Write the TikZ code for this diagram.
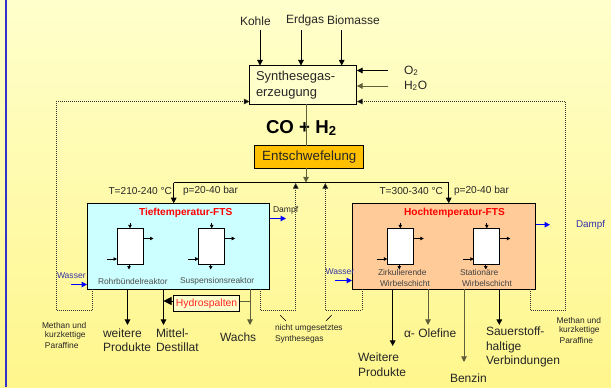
\documentclass[tikz,border=0pt]{standalone}
\usepackage{fontspec}
\setmainfont{Liberation Sans}
\usetikzlibrary{arrows.meta}
\definecolor{bgtop}{HTML}{FFFFCC}
\definecolor{bgbot}{HTML}{FFF68C}
\definecolor{stripe}{HTML}{3333CC}
\definecolor{tiefc}{HTML}{CCFFFF}
\definecolor{hochc}{HTML}{FFCC99}
\definecolor{entsc}{HTML}{FFC000}
\definecolor{olivec}{HTML}{5F5F3A}
\definecolor{bluetxt}{HTML}{3333AA}
\tikzset{
  every node/.style={inner sep=0pt, outer sep=0pt, text=black!85},
  box/.style={draw=black, line width=0.75pt},
  lab/.style={anchor=west, font=\fontsize{9}{9}\selectfont},
  tiny/.style={anchor=west, font=\fontsize{6.3}{6.3}\selectfont},
  cond/.style={anchor=west, font=\fontsize{7.6}{7.6}\selectfont},
  title/.style={anchor=west, font=\fontsize{7.6}{7.6}\selectfont\bfseries, text=red},
  arr/.style={draw=black, line width=0.7pt, -{Triangle[length=4.2pt,width=4.2pt]}},
  oarr/.style={arr, draw=olivec},
  smallarr/.style={draw=black, line width=0.6pt, -{Triangle[length=2.6pt,width=2.6pt]}},
  bluearr/.style={draw=blue, line width=0.8pt, -{Triangle[length=4pt,width=4pt]}},
  dots/.style={draw=black!80, line width=0.5pt, densely dotted},
  dotarr/.style={dots, -{Triangle[length=4.2pt,width=4.2pt,fill=black]}},
}
\begin{document}
\begin{tikzpicture}[x=0.75pt,y=-0.75pt]
  \useasboundingbox (0,0) rectangle (611,387);
  \shade[top color=bgtop,bottom color=bgbot] (0,0) rectangle (611,387);
  \fill[stripe] (5,0) rectangle (7,387);

  % main boxes
  \node[box,fill=bgtop,minimum width=80.6pt,minimum height=29.2pt,inner xsep=4.9pt,text width=70.8pt,align=left,font=\fontsize{9.7}{12}\selectfont] (syn) at (303.2,85) {Synthesegas-\\erzeugung};
  \node[box,fill=entsc,minimum width=81.5pt,minimum height=17.2pt,font=\fontsize{10}{10}\selectfont] (ents) at (309.3,157) {Entschwefelung};
  \node[box,fill=tiefc,minimum width=137.2pt,minimum height=64.5pt] (tief) at (178.5,246.3) {};
  \node[box,fill=hochc,minimum width=137.7pt,minimum height=64.5pt] (hoch) at (443.8,246.3) {};
  \node[box,fill=bgtop,minimum width=50pt,minimum height=11.5pt,text=red!85!white,font=\fontsize{7.8}{7.8}\selectfont] (hydro) at (206.6,303.6) {Hydrospalten};

  % feeds
  \node[lab] (kohle) at (240,21) {Kohle};
  \node[lab] (erdgas) at (286,20) {Erdgas};
  \node[lab] (bio) at (327,20) {Biomasse};
  \coordinate (kohlea) at (260,30);
  \coordinate (erdgasa) at (301,30);
  \coordinate (bioa) at (341.7,30);
  \foreach \n in {kohlea,erdgasa,bioa} {
    \draw[arr] (\n) -- (\n |- syn.north);
  }
  \node[lab] (oxy) at (404,71) {O\textsubscript{2}};
  \node[lab] (wat) at (404,86) {H\textsubscript{2}O};
  \coordinate (oxya) at (388,70.5);
  \coordinate (wata) at (388,86);
  \draw[arr] (oxya) -- (oxya -| syn.east);
  \draw[oarr] (wata) -- (wata -| syn.east);

  \node[anchor=west,font=\fontsize{14}{14}\selectfont\bfseries,text=black] (coh) at (266,128) {CO + H\textsubscript{2}};
  \coordinate (mid) at (306,182.5);
  \coordinate (tiefin) at (173.7,182.5);
  \coordinate (hochin) at (448.7,182.5);
  \draw[draw=olivec,line width=0.7pt] (mid |- syn.south) -- (mid |- ents.north);
  \draw[oarr] (mid |- ents.south) -- (mid);
  \draw[line width=0.7pt] (tiefin) -- (hochin);
  \draw[arr] (tiefin) -- (tiefin |- tief.north);
  \draw[arr] (hochin) -- (hochin |- hoch.north);
  \node[cond,anchor=east] (tt) at (172,191) {T=210-240 °C};
  \node[cond] (tp) at (183,191) {p=20-40 bar};
  \node[cond,anchor=east] (ht) at (443,191) {T=300-340 °C};
  \node[cond] (hp) at (454,191) {p=20-40 bar};
  \node[title] (tname) at (139,212.5) {Tieftemperatur-FTS};
  \node[title] (hname) at (404,212.5) {Hochtemperatur-FTS};

  % recycle loops
  \coordinate (la) at (56,310);
  \coordinate (lb) at (92.7,310);
  \coordinate (ma) at (260,310);
  \coordinate (mb) at (295.7,310);
  \coordinate (mc) at (325.3,310);
  \coordinate (md) at (362,310);
  \coordinate (ra) at (530,310);
  \coordinate (rb) at (565.7,310);
  \draw[dotarr] (lb |- tief.south) -- (lb) -- (la) -- (la |- 0,101.5) -- (syn.west |- 0,101.5);
  \draw[dotarr] (ra |- hoch.south) -- (ra) -- (rb) -- (rb |- 0,101.5) -- (syn.east |- 0,101.5);
  \draw[dotarr] (ma |- tief.south) -- (ma) -- (mb) -- (mb |- 0,183);
  \draw[dotarr] (md |- hoch.south) -- (md) -- (mc) -- (mc |- 0,183);

  % reactors
  \foreach \n/\x in {ra1/130,ra2/211.7,rb1/400.3,rb2/486.8} {
    \node[draw=black,line width=0.7pt,fill=white,minimum width=19.5pt,minimum height=26.8pt] (\n) at (\x,246.2) {};
    \coordinate (\n t) at (\x,222.5);
    \coordinate (\n b) at (\x-1,269.5);
    \coordinate (\n l) at (\x-23.5,259);
    \coordinate (\n r) at (\x+23.5,238.5);
    \draw[smallarr] (\n t) -- (\n t |- \n.north);
    \draw[smallarr] (\n b |- \n.south) -- (\n b);
    \draw[smallarr] (\n l) -- (\n l -| \n.west);
    \draw[smallarr] (\n r -| \n.east) -- (\n r);
  }
  \node[tiny,text=black!70] (ralab) at (98,281) {Rohrbündelreaktor};
  \node[tiny,text=black!70] (rblab) at (180,281) {Suspensionsreaktor};
  \node[tiny,text=black!75] (zlab) at (378,272) {Zirkulierende};
  \node[tiny,text=black!75] (zlabb) at (380,283) {Wirbelschicht};
  \node[tiny,text=black!75] (slab) at (460,272) {Stationäre};
  \node[tiny,text=black!75] (slabb) at (462,283) {Wirbelschicht};

  % water and steam
  \node[tiny,text=bluetxt,font=\fontsize{6.4}{6.4}\selectfont] (wl) at (57,276) {Wasser};
  \node[tiny,text=bluetxt,font=\fontsize{6.4}{6.4}\selectfont] (wr) at (325.7,272) {Wasser};
  \node[tiny,font=\fontsize{6.4}{6.4}\selectfont] (dl) at (273,210) {Dampf};
  \node[tiny,text=bluetxt,font=\fontsize{7.4}{7.4}\selectfont] (dr) at (576,225) {Dampf};
  \coordinate (wla) at (71,284.5);
  \coordinate (wra) at (335,280.5);
  \coordinate (dla) at (286,218.5);
  \coordinate (dra) at (550,224.7);
  \draw[bluearr] (wla) -- (wla -| tief.west);
  \draw[bluearr] (wra) -- (wra -| hoch.west);
  \draw[bluearr] (dla -| tief.east) -- (dla);
  \draw[bluearr] (dra -| hoch.east) -- (dra);

  % products
  \coordinate (pa) at (127.5,325);
  \coordinate (pb) at (163.5,325);
  \coordinate (pc) at (250,325);
  \coordinate (pd) at (392.7,346);
  \coordinate (pe) at (428,325);
  \coordinate (pf) at (464,362);
  \coordinate (pg) at (499.3,325);
  \draw[arr] (pa |- tief.south) -- (pa);
  \draw[arr] (pb |- tief.south) -- (pb);
  \draw[oarr] (pc |- tief.south) -- (pc);
  \draw[arr] (pd |- hoch.south) -- (pd);
  \draw[oarr] (pe |- hoch.south) -- (pe);
  \draw[oarr] (pf |- hoch.south) -- (pf);
  \draw[arr] (pg |- hoch.south) -- (pg);
  \draw[draw=olivec,line width=0.7pt] (hydro.east |- 0,301) -- (pc |- 0,301);
  \draw[draw=black,line width=0.7pt,-{Triangle[length=6pt,width=6pt]}] (hydro.west |- 0,301) -- (pb |- 0,301);

  \node[lab,align=left,font=\fontsize{9}{10.6}\selectfont] (wpa) at (103,340) {weitere\\Produkte};
  \node[lab,align=left,font=\fontsize{9}{10.6}\selectfont] (mdest) at (156,340) {Mittel-\\Destillat};
  \node[lab] (wachs) at (220,337) {Wachs};
  \node[lab,align=left,font=\fontsize{9}{11}\selectfont] (wpb) at (358,364.5) {Weitere\\Produkte};
  \node[lab] (olef) at (404,333) {α- Olefine};
  \node[lab,align=left,font=\fontsize{9}{10.6}\selectfont] (sauer) at (486,347) {Sauerstoff-\\haltige\\Verbindungen};
  \node[lab] (benz) at (450,378) {Benzin};

  \node[tiny] (ml) at (42,325) {Methan und};
  \node[tiny] (mlb) at (45,335) {kurzkettige};
  \node[tiny] (mlc) at (45,345) {Paraffine};
  \node[tiny] (mr) at (556.7,320) {Methan und};
  \node[tiny] (mrb) at (559,330) {kurzkettige};
  \node[tiny] (mrc) at (559.7,340) {Paraffine};

  \node[tiny,align=left,font=\fontsize{6.3}{8.2}\selectfont] (nu) at (275,333.5) {nicht umgesetztes\\Synthesegas};
  \coordinate (tka) at (280,315);
  \coordinate (tkb) at (286,321);
  \coordinate (tkc) at (331.7,315);
  \coordinate (tkd) at (326,321);
  \draw[line width=0.5pt] (tka) -- (tkb);
  \draw[line width=0.5pt] (tkc) -- (tkd);
\end{tikzpicture}
\end{document}
